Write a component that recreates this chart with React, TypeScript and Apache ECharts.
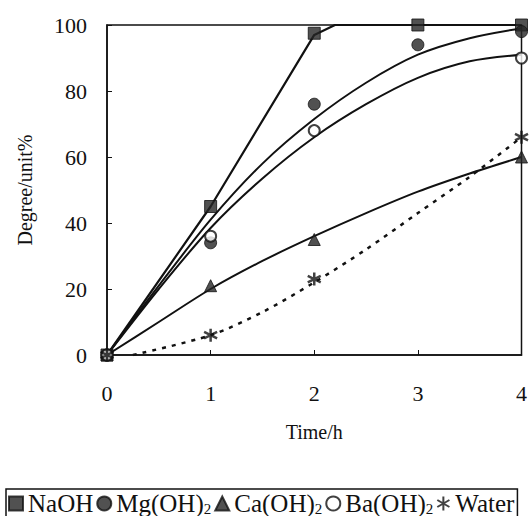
import React, { useEffect, useRef } from "react";
import * as echarts from "echarts";

const xTicks = [0, 1, 2, 3, 4];
const seriesNames = ["NaOH", "Mg(OH)2", "Ca(OH)2", "Ba(OH)2", "Water"];

// measured points
const naohPts = [[0, 0], [1, 45], [2, 97.5], [3, 100], [4, 100]];
const mgPts = [[0, 0], [1, 34], [2, 76], [3, 94], [4, 98]];
const caPts = [[0, 0], [1, 21], [2, 35], [4, 60]];
const baPts = [[0, 0], [1, 36], [2, 68], [4, 90]];
const waterPts = [[0, 0], [1, 6], [2, 23], [4, 66]];

// trend lines
const naohFit = [[0, 0], [1, 45], [2, 97], [2.2, 100], [4, 100]];
const mgFit = [[0, 0], [0.5, 21], [1, 41], [1.5, 58], [2, 71.5], [2.5, 82.5], [3, 91], [3.5, 96], [4, 99]];
const caFit = [[0, 0], [0.5, 10], [1, 20], [1.5, 28.5], [2, 36], [2.5, 43], [3, 49.5], [3.5, 55], [4, 60]];
const baFit = [[0, 0], [0.5, 20], [1, 38.5], [1.5, 53.5], [2, 66], [2.5, 76], [3, 84], [3.5, 89], [4, 91]];
const waterFit = [[0.25, 0], [1, 6], [1.5, 13], [2, 22], [2.5, 32], [3, 43], [3.5, 54], [4, 66]];

const FONT = "Liberation Serif";
const INK = "#111";
const ASTERISK = "path://M0,-10L0,10M-8.66,-5L8.66,5M-8.66,5L8.66,-5";

export default function App() {
  const ref = useRef<HTMLDivElement>(null);
  useEffect(() => {
    document.body.style.margin = "0";
    const chart = echarts.init(ref.current!, null, { renderer: "svg" });
    const fitLine = (name: string, data: number[][], smooth: any, type: any = "solid", width = 2) => ({
      name,
      type: "line",
      data,
      smooth,
      symbol: "none",
      lineStyle: { color: INK, width, type },
      z: 2,
    });
    const pts = (name: string, data: number[][], symbol: string, size: number, extra: any = {}) => ({
      name,
      type: "scatter",
      data,
      symbol,
      symbolSize: size,
      clip: false,
      itemStyle: { color: "#262626", borderColor: INK, borderWidth: 1, ...extra },
      z: 5,
    });
    const option: any = {
      animation: false,
      backgroundColor: "#fff",
      textStyle: { fontFamily: FONT, color: INK },
      grid: {
        left: 107,
        right: 3,
        top: 25,
        bottom: 161,
        show: true,
        borderColor: INK,
        borderWidth: 1.5,
        backgroundColor: "transparent",
      },
      xAxis: {
        type: "value",
        min: 0,
        max: 4,
        interval: 1,
        name: "Time/h",
        nameLocation: "middle",
        nameGap: 67,
        nameTextStyle: { fontSize: 20, fontFamily: FONT, color: INK },
        axisLine: { lineStyle: { color: INK, width: 1.5 } },
        axisTick: { inside: true, length: 5, lineStyle: { color: INK } },
        axisLabel: {
          fontSize: 22,
          fontFamily: FONT,
          color: INK,
          margin: 27,
          formatter: (v: number) => (xTicks.includes(v) ? String(v) : ""),
        },
        splitLine: { show: false },
      },
      yAxis: {
        type: "value",
        min: 0,
        max: 100,
        interval: 20,
        name: "Degree/unit%",
        nameLocation: "middle",
        nameGap: 72,
        nameTextStyle: { fontSize: 20, fontFamily: FONT, color: INK },
        axisLine: { show: true, lineStyle: { color: INK, width: 1.5 } },
        axisTick: { show: true, inside: true, length: 5, lineStyle: { color: INK } },
        axisLabel: { fontSize: 22, fontFamily: FONT, color: INK, margin: 20 },
        splitLine: { show: false },
      },
      legend: {
        data: [
          { name: seriesNames[0], icon: "rect" },
          { name: seriesNames[1], icon: "circle" },
          { name: seriesNames[2], icon: "triangle" },
          { name: seriesNames[3], icon: "emptyCircle" },
          { name: seriesNames[4], icon: ASTERISK },
        ],
        left: 6,
        top: 489,
        itemGap: 3,
        itemWidth: 14,
        itemHeight: 14,
        borderColor: INK,
        borderWidth: 1.5,
        padding: [2, 3, 6, 2],
        selectedMode: false,
        formatter: (name: string) =>
          name.endsWith("2") ? `{n|${name.slice(0, -1)}}{s|2}` : `{n|${name}}`,
        textStyle: {
          fontFamily: FONT,
          color: INK,
          fontSize: 25,
          rich: {
            n: { fontSize: 25, fontFamily: FONT, color: INK, lineHeight: 26 },
            s: { fontSize: 15, fontFamily: FONT, color: INK, verticalAlign: "bottom", lineHeight: 26, padding: [10, 0, 0, 0] },
          },
        },
      },
      series: [
        fitLine("NaOH fit", naohFit, false, "solid", 2.2),
        fitLine("Mg fit", mgFit, 0.3),
        fitLine("Ca fit", caFit, 0.3),
        fitLine("Ba fit", baFit, 0.3),
        fitLine("Water fit", waterFit, 0.3, [4, 6], 2.5),
        pts(seriesNames[0], naohPts, "rect", 12),
        pts(seriesNames[1], mgPts, "circle", 12),
        pts(seriesNames[2], caPts, "triangle", 12),
        pts(seriesNames[3], baPts, "emptyCircle", 11, { color: INK, borderColor: INK, borderWidth: 1.5 }),
        pts(seriesNames[4], waterPts, ASTERISK, 13, { color: INK, borderWidth: 2.5 }),
      ],
    };
    chart.setOption(option);
    return () => chart.dispose();
  }, []);
  return <div ref={ref} style={{ width: 530, height: 516 }} />;
}
